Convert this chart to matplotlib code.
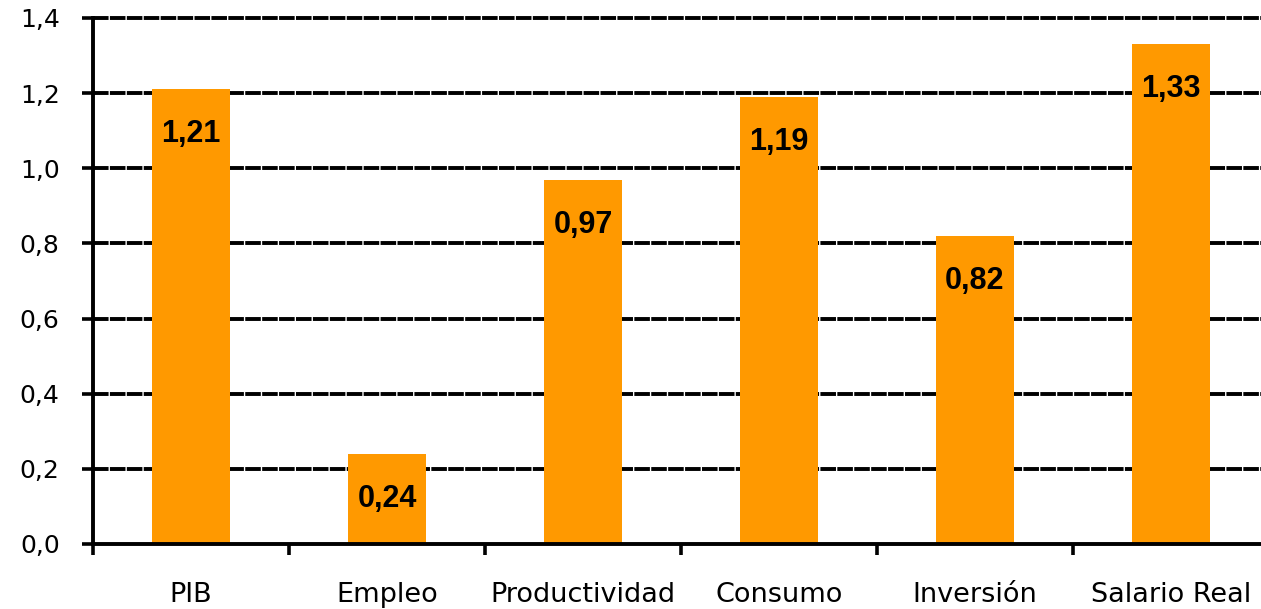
import matplotlib.pyplot as plt
from matplotlib.ticker import FuncFormatter, MultipleLocator
import numpy as np

categorias = ['PIB', 'Empleo', 'Productividad', 'Consumo', 'Inversión', 'Salario Real']
valores = [1.21, 0.24, 0.97, 1.19, 0.82, 1.33]
etiquetas = ['1,21', '0,24', '0,97', '1,19', '0,82', '1,33']

fig = plt.figure(figsize=(12.61, 6.09), dpi=100)
ax = fig.add_axes([93/1261, 1 - 544/609, 1176/1261, 526/609])

x = np.arange(len(categorias))
ax.bar(x, valores, width=0.4, color='#FF9900', zorder=3)

# grid lines: thick black dashes with tiny gaps
for v in np.arange(0.2, 1.41, 0.2):
    ax.axhline(v, color='black', lw=2.8, ls=(0, (4, 0.35)), zorder=1, clip_on=False)

for xi, v, t in zip(x, valores, etiquetas):
    ax.text(xi, v - 0.12, t, ha='center', va='center', fontsize=22,
            fontweight='bold', family='Liberation Sans', zorder=4)

ax.set_xlim(-0.5, len(categorias) - 0.5)
ax.set_ylim(0, 1.4)
ax.yaxis.set_major_locator(MultipleLocator(0.2))
ax.yaxis.set_major_formatter(FuncFormatter(lambda v, p: f'{v:.1f}'.replace('.', ',')))
ax.tick_params(axis='y', length=8, width=2.6, labelsize=18, pad=16)

ax.set_xticks(x)
ax.set_xticklabels(categorias, fontsize=19.5)
ax.tick_params(axis='x', which='major', length=0, pad=27)
ax.set_xticks(np.arange(-0.5, len(categorias), 1), minor=True)
ax.tick_params(axis='x', which='minor', length=8, width=2.6, direction='out')

for s in ['top', 'right']:
    ax.spines[s].set_visible(False)
for s in ['left', 'bottom']:
    ax.spines[s].set_linewidth(2.8)
    ax.spines[s].set_zorder(5)

fig.savefig('out.png', dpi=100)
